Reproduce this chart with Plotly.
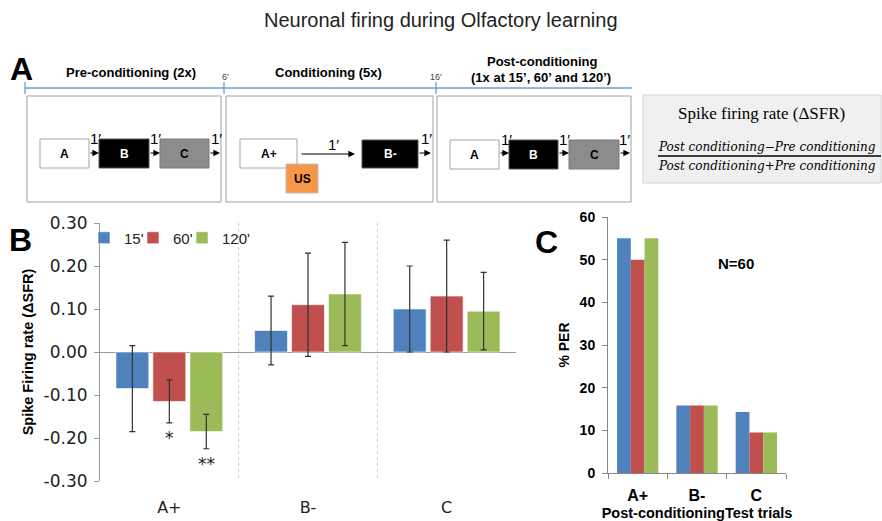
import plotly.graph_objects as go

W, H = 882, 521

# ---------------- data ----------------
categories = ["A+", "B-", "C"]
series_names = ["15'", "60'", "120'"]
sfr_15 = [-0.085, 0.050, 0.100]
sfr_60 = [-0.115, 0.110, 0.130]
sfr_120 = [-0.185, 0.135, 0.095]
sfr_err_15 = [0.100, 0.080, 0.100]
sfr_err_60 = [0.050, 0.120, 0.130]
sfr_err_120 = [0.040, 0.120, 0.090]
sig_15 = ["", "", ""]
sig_60 = ["*", "", ""]
sig_120 = ["**", "", ""]
per_15 = [55.0, 15.8, 14.3]
per_60 = [50.0, 15.8, 9.5]
per_120 = [55.0, 15.8, 9.5]
sfr_tickvals = [0.3, 0.2, 0.1, 0.0, -0.1, -0.2, -0.3]
sfr_ticktext = ["0.30", "0.20", "0.10", "0.00", "-0.10", "-0.20", "-0.30"]
per_tickvals = [0, 10, 20, 30, 40, 50, 60]

colors = ["#4f81bd", "#c0504d", "#9bbb59"]


def px(x):
    return x / W


def py(y):
    return 1 - y / H


fig = go.Figure()
xpos = list(range(len(categories)))

# ---------------- panel B ----------------
b_width = 0.237
b_offsets = [-0.385, -0.1185, 0.148]
sfr_vals = [sfr_15, sfr_60, sfr_120]
sfr_errs = [sfr_err_15, sfr_err_60, sfr_err_120]
sigs = [sig_15, sig_60, sig_120]
legend_ids = ["legend", "legend2", "legend3"]
for i in range(3):
    fig.add_trace(go.Bar(
        x=xpos, y=sfr_vals[i], name=series_names[i],
        width=b_width, offset=b_offsets[i],
        marker=dict(color=colors[i], line=dict(color="rgba(255,255,255,0.6)", width=1)),
        error_y=dict(type="data", array=sfr_errs[i], visible=True,
                     color="#333333", thickness=1.2, width=3),
        xaxis="x", yaxis="y", showlegend=True, legend=legend_ids[i],
    ))

annotations = []
for i in range(3):
    for j in range(len(categories)):
        if sigs[i][j]:
            annotations.append(dict(
                x=xpos[j] + b_offsets[i] + b_width / 2,
                y=sfr_vals[i][j] - sfr_errs[i][j] - 0.008,
                xref="x", yref="y", text=sigs[i][j], showarrow=False,
                yanchor="top", font=dict(family="DejaVu Sans", size=17, color="#222")))

# ---------------- panel C ----------------
c_width = 0.232
c_offsets = [-0.348, -0.116, 0.116]
per_vals = [per_15, per_60, per_120]
for i in range(3):
    fig.add_trace(go.Bar(
        x=xpos, y=per_vals[i], name=series_names[i],
        width=c_width, offset=c_offsets[i],
        marker=dict(color=colors[i], line=dict(width=0)),
        xaxis="x2", yaxis="y2", showlegend=False,
    ))

# ---------------- panel A diagram ----------------
shapes = []


def rect(x0, y0, x1, y1, fill, line, lw=1):
    shapes.append(dict(type="rect", xref="paper", yref="paper",
                       x0=px(x0), x1=px(x1), y0=py(y1), y1=py(y0),
                       fillcolor=fill, line=dict(color=line, width=lw), layer="above"))


def hline(x0, x1, y, color, lw=1):
    shapes.append(dict(type="line", xref="paper", yref="paper",
                       x0=px(x0), x1=px(x1), y0=py(y), y1=py(y),
                       line=dict(color=color, width=lw), layer="above"))


def vline(x, y0, y1, color, lw=1):
    shapes.append(dict(type="line", xref="paper", yref="paper",
                       x0=px(x), x1=px(x), y0=py(y0), y1=py(y1),
                       line=dict(color=color, width=lw), layer="above"))


def text(x, y, s, size, color="black", family="Liberation Sans", xanchor="center", weight="normal"):
    annotations.append(dict(x=px(x), y=py(y), xref="paper", yref="paper", text=s,
                            showarrow=False, xanchor=xanchor, yanchor="middle",
                            font=dict(size=size, color=color, family=family, weight=weight)))


def arrow(x0, x1, y):
    annotations.append(dict(x=px(x1), y=py(y), xref="paper", yref="paper",
                            ax=x0 - x1, ay=0, axref="pixel", ayref="pixel", text="",
                            showarrow=True, arrowhead=2, arrowsize=1.1, arrowwidth=1.2,
                            arrowcolor="black", standoff=0, startstandoff=0))


# timeline
tl_col = "#6a9fd8"
hline(25, 632, 88, tl_col, 1.3)
for xv in (25, 224, 436):
    vline(xv, 82, 94, tl_col, 1.3)
text(225, 77, "6'", 9, "#444")
text(436, 77, "16'", 9, "#444")

# headers
text(131, 72, "Pre-conditioning (2x)", 13, weight="bold")
text(328, 72, "Conditioning (5x)", 13, weight="bold")
text(542, 62, "Post-conditioning", 13, weight="bold")
text(541, 77, "(1x at 15\u2019, 60\u2019 and 120\u2019)", 13, weight="bold")
text(21, 69, "A", 32, weight="bold")

# frames
frame_col = "#a0a0a0"
rect(27, 96, 221, 202, "rgba(0,0,0,0)", frame_col)
rect(226, 96, 433, 202, "rgba(0,0,0,0)", frame_col)
rect(437, 96, 631, 202, "rgba(0,0,0,0)", frame_col)

# stimulus boxes
white_b, black_b, gray_b = "#ffffff", "#000000", "#8c8c8c"
one_min = "1\u2032"
# pre-conditioning
rect(40, 139, 89, 168, white_b, "#a6a6a6")
rect(99, 139, 149, 168, black_b, "#555555")
rect(160, 139, 209, 168, gray_b, "#7a7a7a")
text(64.5, 154, "A", 12, weight="bold")
text(124, 154, "B", 12, "white", weight="bold")
text(184.5, 154, "C", 12, weight="bold")
arrow(89, 99, 153)
arrow(149, 160, 153)
arrow(209, 220, 153)
text(95, 138, one_min, 15)
text(155, 138, one_min, 15)
text(216, 138, one_min, 15)
# conditioning
rect(240, 139, 297, 168, white_b, "#a6a6a6")
text(268.5, 154, "A+", 12, weight="bold")
rect(286, 164, 318, 193, "#f79646", "#bfbfbf")
text(302, 179, "US", 12, weight="bold")
arrow(300, 355, 154)
text(333, 144, one_min, 15)
rect(362, 140, 418, 168, black_b, "#555555")
text(390, 154, "B-", 12, "white", weight="bold")
arrow(418, 431, 153)
text(426, 138, one_min, 15)
# post-conditioning
rect(450, 140, 499, 169, white_b, "#a6a6a6")
rect(509, 140, 558, 169, black_b, "#555555")
rect(569, 140, 619, 169, gray_b, "#7a7a7a")
text(474.5, 155, "A", 12, weight="bold")
text(533.5, 155, "B", 12, "white", weight="bold")
text(594, 155, "C", 12, weight="bold")
arrow(499, 509, 153)
arrow(558, 569, 153)
arrow(619, 630, 153)
text(506, 139, one_min, 15)
text(564, 139, one_min, 15)
text(624, 139, one_min, 15)

# formula box
rect(643, 95, 881, 183, "#f0f0f0", "#d4d4d4")
text(761, 113, "Spike firing rate (\u0394SFR)", 17, family="Liberation Serif")
text(656, 147, "<i>Post conditioning\u2212Pre conditioning</i>", 12,
     family="DejaVu Serif", xanchor="left")
hline(658, 881, 156, "black", 1.3)
text(656, 166, "<i>Post conditioning+Pre conditioning</i>", 12,
     family="DejaVu Serif", xanchor="left")

# panel letters & extras
text(20, 240, "B", 32, weight="bold")
text(546, 242, "C", 32, weight="bold")
text(736, 263, "N=60", 15, weight="bold")

# title
text(441, 20, "Neuronal firing during Olfactory learning", 20, "#222")

legend_style = dict(orientation="h", xanchor="left", yanchor="middle",
                    font=dict(family="Liberation Sans", size=15, color="#222"),
                    bgcolor="rgba(0,0,0,0)", itemwidth=30)
legend_text_x = [126, 175, 224]   # where each legend label starts (px)

fig.update_layout(
    width=W, height=H, autosize=False,
    margin=dict(l=0, r=0, t=0, b=0, pad=0, autoexpand=False),
    paper_bgcolor="white", plot_bgcolor="white",
    barmode="overlay", hovermode=False,
    font=dict(family="Liberation Sans", color="black"),
    shapes=shapes, annotations=annotations,
    legend=dict(x=px(legend_text_x[0] - 42), y=py(238), **legend_style),
    legend2=dict(x=px(legend_text_x[1] - 42), y=py(238), **legend_style),
    legend3=dict(x=px(legend_text_x[2] - 42), y=py(238), **legend_style),
    xaxis=dict(domain=[px(100), px(516)], anchor="y", range=[-0.5, 2.5],
               tickvals=xpos, ticktext=categories, ticks="", showline=False,
               showgrid=False, zeroline=False, ticklabelstandoff=15,
               tickfont=dict(family="DejaVu Sans", size=16, color="#222"),
               minor=dict(tickvals=[0.5, 1.5, 2.5], showgrid=True, gridcolor="#d0d0d0",
                          griddash="dot", gridwidth=1, ticks="")),
    yaxis=dict(domain=[py(481), py(223)], anchor="x", range=[-0.3, 0.3],
               tickvals=sfr_tickvals, ticktext=sfr_ticktext, ticks="outside", ticklen=5,
               tickcolor="#999", showline=True, linecolor="#999", showgrid=False,
               zeroline=True, zerolinecolor="#999", zerolinewidth=1,
               tickfont=dict(family="DejaVu Sans", size=17, color="#222"),
               ticklabelstandoff=3,
               title=dict(text="Spike Firing rate (\u0394SFR)", standoff=6,
                          font=dict(size=14.5, weight="bold"))),
    xaxis2=dict(domain=[px(608), px(786)], anchor="y2", range=[-0.5, 2.5],
                tickvals=xpos, ticktext=categories, ticks="", showline=True,
                linecolor="#888", showgrid=False, zeroline=False, ticklabelstandoff=8,
                tickfont=dict(size=16, weight="bold"),
                minor=dict(tickvals=[-0.5, 0.5, 1.5, 2.5], ticks="outside", ticklen=5,
                           tickcolor="#888", showgrid=False),
                title=dict(text="Post-conditioningTest trials", standoff=4,
                           font=dict(size=14.5, weight="bold"))),
    yaxis2=dict(domain=[py(473), py(217)], anchor="x2", range=[0, 60],
                tickvals=per_tickvals, ticks="outside", ticklen=5, tickcolor="#888",
                showline=True, linecolor="#888", showgrid=False, zeroline=False,
                tickfont=dict(size=14, weight="bold"), ticklabelstandoff=4,
                title=dict(text="% PER", standoff=6, font=dict(size=14, weight="bold"))),
)

fig.write_html("out.html", config={"displayModeBar": False, "staticPlot": True},
               post_script="document.body.style.margin='0px';document.body.style.overflow='hidden';")
